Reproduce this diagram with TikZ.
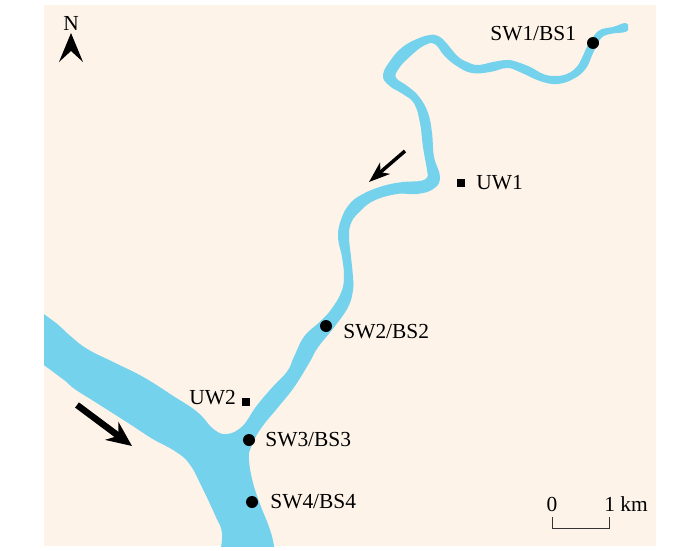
\documentclass[tikz,border=0pt]{standalone}
\usepackage{fontspec}
\setmainfont{Liberation Serif}
\usetikzlibrary{arrows.meta}
\definecolor{landcolor}{HTML}{FDF3E9}
\definecolor{rivercolor}{HTML}{74D2EC}

\begin{document}
\begin{tikzpicture}
[x=0.02cm,y=-0.02cm]
\tikzstyle{station node}=[circle,fill=black,inner sep=0,minimum size=0.24cm]
\tikzstyle{well node}=[rectangle,fill=black,inner sep=0,minimum size=0.17cm]
\tikzstyle{site label}=[anchor=west,inner sep=0,font=\fontsize{12.2}{14}\selectfont]
\tikzstyle{flow arrow}=[-{Stealth[inset=0.12cm,length=0.42cm,width=0.3cm]}]

\useasboundingbox (0,0) rectangle (700,551);
\fill[landcolor] (44,5) rectangle (656,546);

\begin{scope}
\clip (44,5) rectangle (656,546);
\filldraw[rivercolor,line width=0.04cm,line join=round] plot[smooth cycle,tension=0.7] coordinates {
  (625,24) (613,28) (602,30) (595,36) (588,47) (583,58) (577,68) (567,75)
  (555,77) (543,75) (530,68) (517,63) (507,61) (493,63) (478,66) (467,63)
  (457,57) (445,43) (438,37) (430,36) (417,40) (403,48) (392,60) (384,75)
  (390,85) (403,93) (415,103) (421,123) (424,147) (428,170) (428,178) (420,182)
  (403,183) (383,187) (363,195) (350,205) (342,220) (339,237) (343,257) (345,277)
  (342,293) (332,310) (320,323) (305,337) (295,357) (288,372) (273,388) (257,407)
  (243,427) (227,435) (213,430) (197,413) (173,397) (143,378) (113,363) (87,350)
  (70,337) (53,322) (30,308) (10,310) (10,350) (30,355) (63,378) (75,388) (97,402)
  (130,423) (153,438) (175,450) (190,463) (203,487) (217,517) (223,533) (226,570)
  (275,570) (273,546) (268,527) (260,507) (252,483) (248,460) (250,447) (260,428)
  (277,407) (293,387) (308,363) (317,347) (333,327) (347,307) (352,290) (352,277)
  (350,257) (348,237) (350,223) (358,212) (373,200) (397,193) (417,193) (433,188)
  (439,177) (433,157) (431,133) (427,113) (418,97) (407,87) (395,78) (398,68)
  (408,57) (423,45) (435,43) (445,55) (457,65) (472,72) (490,71) (507,67)
  (520,71) (540,80) (557,83) (573,78) (585,68) (592,53) (600,38) (610,33)
  (625,31) (627,27)};
\end{scope}

% north arrow
\node(north)[inner sep=0,font=\fontsize{12.2}{14}\selectfont]at(71,23){N};
\fill[black] (71,33)--(59,62)--(71,51)--(83,62)--cycle;

% flow direction
\coordinate(flow1a)at(405,151);
\coordinate(flow1b)at(369,182);
\coordinate(flow2a)at(77,405);
\coordinate(flow2b)at(132,446);
\draw[flow arrow,line width=0.07cm](flow1a)--(flow1b);
\draw[-{Stealth[inset=0.16cm,length=0.5cm,width=0.44cm]},line width=0.13cm](flow2a)--(flow2b);

% sampling sites
\node(sw1)[station node]at(593,43){};
\node(sw2)[station node]at(326,326){};
\node(sw3)[station node]at(249,440){};
\node(sw4)[station node]at(252,502){};
\node(uw1)[well node]at(461,183){};
\node(uw2)[well node]at(246,402){};

\node(sw1 label)[site label]at(490,34){SW1/BS1};
\node(sw2 label)[site label]at(343,332){SW2/BS2};
\node(sw3 label)[site label]at(265,440){SW3/BS3};
\node(sw4 label)[site label]at(270,502){SW4/BS4};
\node(uw1 label)[site label]at(476,183){UW1};
\node(uw2 label)[site label]at(189,398){UW2};

% scale bar
\node(scale0)[inner sep=0,font=\fontsize{12.2}{14}\selectfont]at(552,504){0};
\node(scale1)[site label]at(604,504){1 km};
\coordinate(bar a)at(552,517);
\coordinate(bar b)at(609,517);
\draw[line width=0.5pt,black!80](bar a)--++(0,11)-|(bar b);
\end{tikzpicture}
\end{document}
